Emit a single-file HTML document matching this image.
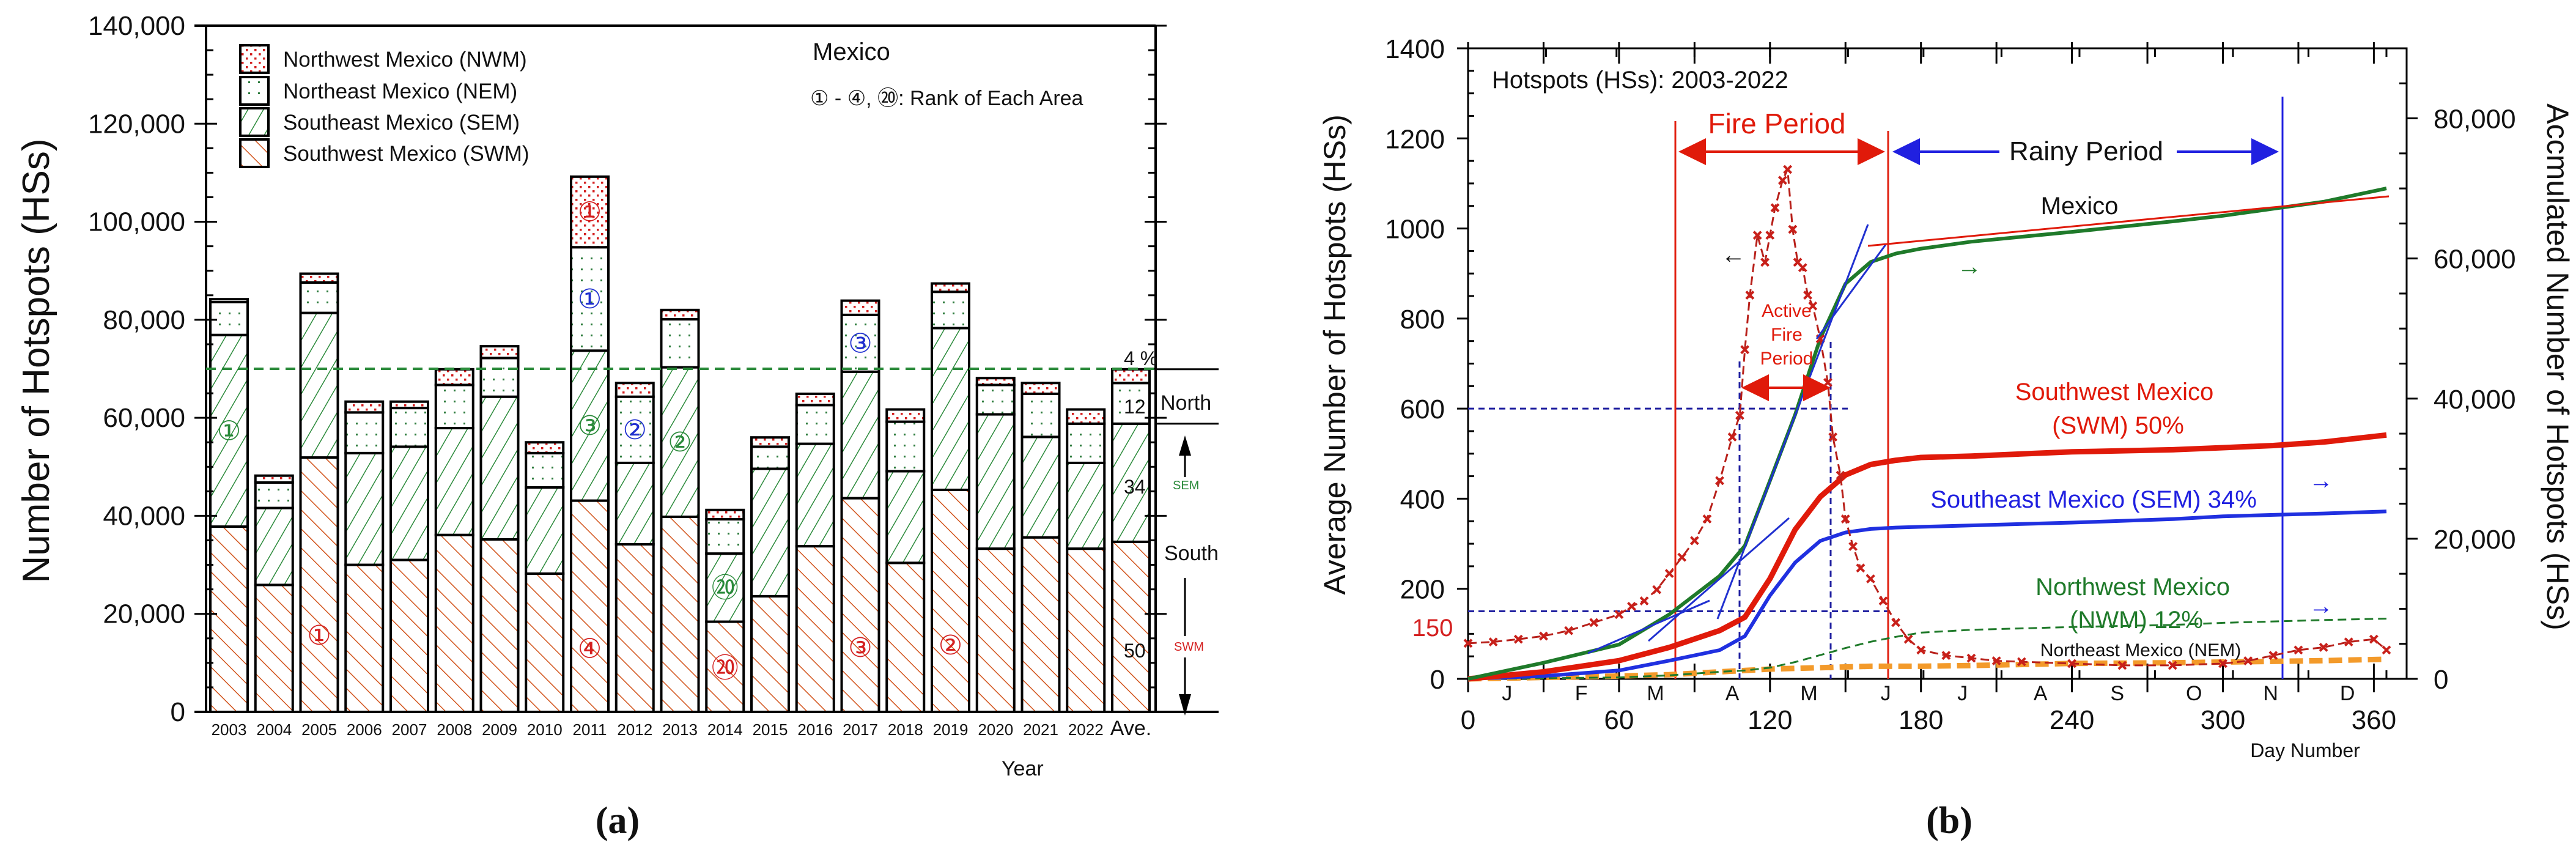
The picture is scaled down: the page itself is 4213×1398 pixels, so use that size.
<!DOCTYPE html>
<html><head><meta charset="utf-8"><style>
html,body{margin:0;padding:0;background:#fff;}
svg{display:block;font-family:"Liberation Sans","DejaVu Sans",sans-serif;}
</style></head><body>
<svg id="fig" width="4213" height="1398" viewBox="0 0 4213 1398" xmlns="http://www.w3.org/2000/svg">
<defs>
<pattern id="pSWM" patternUnits="userSpaceOnUse" width="22" height="22" patternTransform="rotate(-45)"><rect width="22" height="22" fill="#fff"/><line x1="0" y1="0" x2="0" y2="22" stroke="#d2541c" stroke-width="3"/></pattern>
<pattern id="pSEM" patternUnits="userSpaceOnUse" width="22" height="22" patternTransform="rotate(30)"><rect width="22" height="22" fill="#fff"/><line x1="0" y1="0" x2="0" y2="22" stroke="#2a8a3a" stroke-width="3"/></pattern>
<pattern id="pNEM" patternUnits="userSpaceOnUse" width="16" height="18"><rect width="16" height="18" fill="#fff"/><rect x="6" y="7" width="3" height="3" fill="#2a7a3a"/></pattern>
<pattern id="pNWM" patternUnits="userSpaceOnUse" width="14" height="14"><rect width="14" height="14" fill="#fff"/><rect x="3" y="3" width="3.5" height="3.5" fill="#d42020"/><rect x="10" y="10" width="3.5" height="3.5" fill="#d42020"/></pattern>
</defs>
<g id="chartA"></g>
<g id="chartB"></g>
</svg>
<script>
// ---------- Chart (a) data ----------
const years = ["2003","2004","2005","2006","2007","2008","2009","2010","2011","2012","2013","2014","2015","2016","2017","2018","2019","2020","2021","2022","Ave."];
const swm = [37.8,25.9,51.9,30.0,31.0,36.1,35.2,28.2,43.1,34.2,39.8,18.4,23.6,33.8,43.6,30.4,45.3,33.3,35.6,33.3,34.7];
const sem = [39.1,15.7,29.5,22.8,23.1,21.8,29.1,17.6,30.6,16.6,30.5,13.9,26.0,20.9,25.8,18.7,33.0,27.4,20.5,17.5,24.1];
const nem = [6.7,5.2,6.2,8.3,7.9,8.8,7.9,7.0,21.1,13.5,9.8,7.0,4.5,7.9,11.6,10.1,7.4,6.0,8.8,8.0,8.3];
const nwm = [0.6,1.4,1.8,2.2,1.3,3.2,2.4,2.2,14.4,2.8,1.9,1.9,1.9,2.3,2.9,2.5,1.7,1.4,2.2,2.9,2.8];
const yTicksA = [0,20000,40000,60000,80000,100000,120000,140000];
const rankIdx = [0,2,8,8,8,8,9,10,11,11,14,14,16];
const rankSeries = ["sem","swm","nwm","nem","sem","swm","nem","sem","sem","swm","nem","swm","swm"];
const rankText = ["①","①","①","①","③","④","②","②","⑳","⑳","③","③","②"];

// ---------- Chart (b) data ----------
const dailyDays = [0,10,20,30,40,50,60,65,70,75,80,85,90,95,100,105,108,110,112,115,118,120,122,125,127,129,131,133,135,137,140,143,145,148,150,153,156,160,165,170,175,180,190,200,210,220,240,260,280,300,310,320,330,340,350,360,365];
const dailyAvg = [79,82,88,95,107,125,143,161,173,198,234,270,307,355,440,537,585,731,852,985,925,985,1046,1107,1131,998,925,913,852,828,755,658,537,452,355,294,246,222,173,125,88,64,52,46,40,38,34,30,30,34,40,52,64,70,82,88,64];
const cumDays = [0,30,60,80,100,110,120,130,140,150,160,170,180,200,240,280,300,320,340,365];
const cumMexico = [0,2.3,4.9,9.2,14.7,19.0,28.3,37.7,48.6,56.4,59.5,60.7,61.4,62.4,63.8,65.3,66.1,67.1,68.1,70.0];
const cumSWM = [0,1.0,2.6,4.5,6.9,8.8,14.3,21.3,26.0,29.1,30.6,31.2,31.6,31.8,32.4,32.7,33.0,33.3,33.8,34.8];
const cumSEM = [0,0.4,1.2,2.6,4.1,6.1,11.9,16.6,19.7,20.9,21.4,21.6,21.7,21.9,22.3,22.8,23.2,23.4,23.6,23.9];
const cumNWM = [0,0.1,0.2,0.5,1.0,1.2,1.6,2.4,3.4,4.4,5.3,6.0,6.6,7.0,7.4,7.7,8.0,8.2,8.4,8.6];
const cumNEM = [0,0.2,0.4,0.6,1.0,1.2,1.4,1.5,1.6,1.7,1.8,1.8,1.8,1.9,2.2,2.3,2.4,2.5,2.6,2.8];
const leftTicksB = [0,200,400,600,800,1000,1200,1400];
const rightTicksB = [0,20000,40000,60000,80000];
const dayTicks = [0,60,120,180,240,300,360];
const monthLetters = ["J","F","M","A","M","J","J","A","S","O","N","D"];
const monthStarts = [0,31,59,90,120,151,181,212,243,273,304,334,365];

const NS="http://www.w3.org/2000/svg";
function el(tag,attrs,parent,text){const e=document.createElementNS(NS,tag);for(const k in attrs)e.setAttribute(k,attrs[k]);if(text!==undefined)e.textContent=text;parent.appendChild(e);return e;}

// ===== Chart A =====
const A=document.getElementById('chartA');
const aL=337,aR=1890,aT=42,aB=1164;
const yA=v=>aB-v/140000*(aB-aT);
const bx=i=>344+i*73.75, bw=61;
for(let i=0;i<years.length;i++){
  const s1=swm[i]*1000,s2=s1+sem[i]*1000,s3=s2+nem[i]*1000,s4=s3+nwm[i]*1000;
  const segs=[[0,s1,'pSWM','swm'],[s1,s2,'pSEM','sem'],[s2,s3,'pNEM','nem'],[s3,s4,'pNWM','nwm']];
  for(const sg of segs){
    const r=el('rect',{x:bx(i),y:yA(sg[1]),width:bw,height:yA(sg[0])-yA(sg[1]),fill:'url(#'+sg[2]+')',stroke:'#000','stroke-width':4},A);
    
    
  }
  const t=el('text',{x:bx(i)+bw/2,y:1202,'font-size':i===20?34:26,'text-anchor':'middle',fill:'#111'},A,years[i]);
  
  
}
const rankColor={swm:'#d42020',sem:'#2a8a3a',nem:'#2030d0',nwm:'#d42020'};
for(let k=0;k<rankIdx.length;k++){
  const i=rankIdx[k],s=rankSeries[k];
  const base={swm:0,sem:swm[i],nem:swm[i]+sem[i],nwm:swm[i]+sem[i]+nem[i]}[s];
  const h={swm:swm[i],sem:sem[i],nem:nem[i],nwm:nwm[i]}[s];
  let v=(base+h/2)*1000;
  if(s==='swm') v=(base+h*0.3)*1000;
  if(i===11&&s==='swm') v=9000;
  const t=el('text',{x:bx(i)+bw/2,y:yA(v)+15,'font-size':44,'text-anchor':'middle',fill:rankColor[s]},A,rankText[k]);
  
  
}
el('line',{x1:aL,y1:aT,x2:aL,y2:aB,stroke:'#000','stroke-width':4},A);
el('line',{x1:aR,y1:aT,x2:aR,y2:aB,stroke:'#000','stroke-width':4},A);
el('line',{x1:318,y1:aT,x2:aR,y2:aT,stroke:'#000','stroke-width':4},A);
el('line',{x1:318,y1:aB,x2:1993,y2:aB,stroke:'#000','stroke-width':4},A);
for(let v=0;v<=140000;v+=5000){
  const y=yA(v),maj=v%20000===0;
  el('line',{x1:maj?318:aL,y1:y,x2:aL+(maj?18:12),y2:y,stroke:'#000','stroke-width':3},A);
  el('line',{x1:aR-(maj?18:12),y1:y,x2:aR+(maj?18:0),y2:y,stroke:'#000','stroke-width':3},A);
}
for(const v of yTicksA){
  const t=el('text',{x:303,y:yA(v)+15,'font-size':44,'text-anchor':'end',fill:'#111'},A,v.toLocaleString('en-US'));
  
  
}
const ytA=el('text',{x:0,y:0,'font-size':62,'text-anchor':'middle',transform:'translate(80,590) rotate(-90)',fill:'#111'},A,'Number of Hotspots (HSs)');


el('line',{x1:aL,y1:yA(70000),x2:aR,y2:yA(70000),stroke:'#2a8a3a','stroke-width':4,'stroke-dasharray':'16,10'},A);
el('line',{x1:aR,y1:yA(69900),x2:1993,y2:yA(69900),stroke:'#000','stroke-width':3},A);
el('line',{x1:aR,y1:yA(58800),x2:1993,y2:yA(58800),stroke:'#000','stroke-width':3},A);
const legA=[['pNWM','Northwest Mexico (NWM)',74],['pNEM','Northeast Mexico (NEM)',126],['pSEM','Southeast Mexico (SEM)',177],['pSWM','Southwest Mexico (SWM)',228]];
for(const l of legA){
  const g=el('g',{},A);
  
  
  el('rect',{x:393,y:l[2],width:46,height:45,fill:'url(#'+l[0]+')',stroke:'#000','stroke-width':4},g);
  el('text',{x:463,y:l[2]+35,'font-size':35,fill:'#111'},g,l[1]);
}
function txt(p,x,y,s,str,name,opt){const t=el('text',Object.assign({x:x,y:y,'font-size':s,fill:'#111'},opt||{}),p,str);return t;}
txt(A,1329,98,40,'Mexico','region-title');
txt(A,1325,172,34,'① - ④, ⑳: Rank of Each Area','rank-note');
txt(A,1838,597,32,'4 %','pct-nwm');
txt(A,1838,676,32,'12','pct-nem');
txt(A,1898,670,34,'North','north-label');
txt(A,1838,807,32,'34','pct-sem');
txt(A,1918,800,20,'SEM','sem-small',{fill:'#2a8a3a'});
txt(A,1904,916,34,'South','south-label');
txt(A,1838,1075,32,'50','pct-swm');
txt(A,1920,1064,20,'SWM','swm-small',{fill:'#d42020'});
el('line',{x1:1938,y1:735,x2:1938,y2:780,stroke:'#000','stroke-width':3},A);
el('path',{d:'M1928,745 L1938,712 L1948,745z',fill:'#000'},A);
el('line',{x1:1938,y1:945,x2:1938,y2:1040,stroke:'#000','stroke-width':3},A);
el('line',{x1:1938,y1:1075,x2:1938,y2:1150,stroke:'#000','stroke-width':3},A);
el('path',{d:'M1928,1135 L1938,1170 L1948,1135z',fill:'#000'},A);
txt(A,1638,1268,34,'Year','x-axis-title');
txt(A,1010,1362,62,'(a)','panel-label-a',{'font-family':'Liberation Serif, serif','text-anchor':'middle','font-weight':'bold'});

// ===== Chart B =====
const B=document.getElementById('chartB');
const bL=2401,bR=3936,bT=79,bB=1110;
const xD=d=>bL+d*4.115;
const yL=v=>bB-v/1400*(bB-bT);
const yR=v=>bB-v/90000*(bB-bT);
el('rect',{x:bL,y:bT,width:bR-bL,height:bB-bT,fill:'none',stroke:'#000','stroke-width':3},B);
for(let d=0;d<=360;d+=30){
  el('line',{x1:xD(d),y1:bB-25,x2:xD(d),y2:bB+22,stroke:'#000','stroke-width':3},B);
  el('line',{x1:xD(d),y1:bT-10,x2:xD(d),y2:bT+25,stroke:'#000','stroke-width':3},B);
}
for(const m of monthStarts){
  el('line',{x1:xD(m),y1:bB-14,x2:xD(m),y2:bB,stroke:'#000','stroke-width':3},B);
  el('line',{x1:xD(m),y1:bT,x2:xD(m),y2:bT+14,stroke:'#000','stroke-width':3},B);
}
for(let v=0;v<=1400;v+=50){
  const maj=v%200===0;
  el('line',{x1:maj?bL-18:bL,y1:yL(v),x2:bL+(maj?0:10),y2:yL(v),stroke:'#000','stroke-width':3},B);
}
for(let v=0;v<=90000;v+=5000){
  const maj=v%20000===0;
  el('line',{x1:bR-(maj?0:12),y1:yR(v),x2:bR+(maj?18:0),y2:yR(v),stroke:'#000','stroke-width':3},B);
}
for(const v of leftTicksB) txt(B,2363,yL(v)+16,44,String(v),'left-tick-label',{'text-anchor':'end'});
for(const v of rightTicksB) txt(B,3980,yR(v)+16,44,v.toLocaleString('en-US'),'right-tick-label');
for(const d of dayTicks) txt(B,xD(d),1192,44,String(d),'day-tick-label',{'text-anchor':'middle'});
for(let m=0;m<12;m++) txt(B,xD((monthStarts[m]+monthStarts[m+1])/2),1145,34,monthLetters[m],'month-label',{'text-anchor':'middle'});
txt(B,3770,1238,32,'Day Number','x-axis-title-b',{'text-anchor':'middle'});
txt(B,0,0,50,'Average Number of Hotspots (HSs)','left-axis-title',{'text-anchor':'middle',transform:'translate(2200,580) rotate(-90)'});
txt(B,0,0,50,'Accmulated Number of Hotspots (HSs)','right-axis-title',{'text-anchor':'middle',transform:'translate(4166,600) rotate(90)'});
txt(B,2343,1040,40,'150','label-150',{fill:'#d42020','text-anchor':'middle'});
txt(B,2440,144,40,'Hotspots (HSs): 2003-2022','title-b');
txt(B,3188,1362,62,'(b)','panel-label-b',{'font-family':'Liberation Serif, serif','text-anchor':'middle','font-weight':'bold'});
el('line',{x1:bL,y1:yL(600),x2:3022,y2:yL(600),stroke:'#2020a0','stroke-width':3,'stroke-dasharray':'10,7'},B);
el('line',{x1:bL,y1:yL(150),x2:3088,y2:yL(150),stroke:'#2020a0','stroke-width':3,'stroke-dasharray':'10,7'},B);
el('line',{x1:2845,y1:591,x2:2845,y2:bB,stroke:'#2020a0','stroke-width':3,'stroke-dasharray':'10,7'},B);
el('line',{x1:2994,y1:559,x2:2994,y2:bB,stroke:'#2020a0','stroke-width':3,'stroke-dasharray':'10,7'},B);
el('line',{x1:2740,y1:198,x2:2740,y2:bB,stroke:'#e02010','stroke-width':3},B);
el('line',{x1:3088,y1:214,x2:3088,y2:bB,stroke:'#e02010','stroke-width':3},B);
el('line',{x1:3733,y1:158,x2:3733,y2:bB,stroke:'#2020e0','stroke-width':3},B);
function lineSeries(xs,ys,fy,stroke,w,dash,name){
  let d='';for(let i=0;i<xs.length;i++)d+=(i?'L':'M')+xD(xs[i]).toFixed(1)+','+fy(ys[i]).toFixed(1);
  const p=el('path',{d:d,fill:'none',stroke:stroke,'stroke-width':w,'stroke-dasharray':dash||'none','stroke-linejoin':'round'},B);
  
  
  return p;
}
lineSeries(cumDays,cumNEM.map(v=>v*1000),yR,'#f39a2a',9,'22,10','series-nem');
lineSeries(cumDays,cumNWM.map(v=>v*1000),yR,'#1f7a2a',3,'14,8','series-nwm');
lineSeries(cumDays,cumSEM.map(v=>v*1000),yR,'#2030e0',6,'','series-sem');
lineSeries(cumDays,cumSWM.map(v=>v*1000),yR,'#e01a0a',9,'','series-swm');
lineSeries(cumDays,cumMexico.map(v=>v*1000),yR,'#1f7a2a',6,'','series-mexico');
lineSeries(dailyDays,dailyAvg,yL,'#b8201a',3,'14,7','series-daily-average');
for(let i=0;i<dailyDays.length;i++){
  const x=xD(dailyDays[i]),y=yL(dailyAvg[i]);
  const m=el('path',{d:`M${x-6},${y-6}L${x+6},${y+6}M${x-6},${y+6}L${x+6},${y-6}`,stroke:'#c8201a','stroke-width':4},B);
  
  
}
el('line',{x1:2597,y1:1068,x2:2796,y2:982,stroke:'#2030d0','stroke-width':3},B);
el('line',{x1:2696,y1:1048,x2:2926,y2:847,stroke:'#2030d0','stroke-width':3},B);
el('line',{x1:2809,y1:1012,x2:3055,y2:367,stroke:'#2030d0','stroke-width':3},B);
el('line',{x1:2971,y1:554,x2:3084,y2:400,stroke:'#2030d0','stroke-width':3},B);
el('line',{x1:3055,y1:402,x2:3907,y2:321,stroke:'#e01a0a','stroke-width':3},B);
function dblArrow(x1,x2,y,c,hw,hl,name){
  const g=el('g',{},B);
  el('line',{x1:x1+hl,y1:y,x2:x2-hl,y2:y,stroke:c,'stroke-width':4},g);
  el('path',{d:`M${x1},${y}L${x1+hl},${y-hw}L${x1+hl},${y+hw}z`,fill:c},g);
  el('path',{d:`M${x2},${y}L${x2-hl},${y-hw}L${x2-hl},${y+hw}z`,fill:c},g);
}
dblArrow(2745,3083,248,'#e01a0a',22,45,'fire-period-arrow');
dblArrow(3095,3727,248,'#2020e0',22,45,'rainy-period-arrow');
dblArrow(2848,2994,634,'#e01a0a',22,45,'active-fire-arrow');
el('rect',{x:3270,y:220,width:290,height:55,fill:'#fff'},B);
txt(B,2906,218,46,'Fire Period','fire-period-label',{fill:'#e01a0a','text-anchor':'middle'});
txt(B,3412,262,44,'Rainy Period','rainy-period-label',{'text-anchor':'middle'});
txt(B,3401,350,40,'Mexico','mexico-label',{'text-anchor':'middle'});
txt(B,2922,518,30,'Active','active-label-1',{fill:'#e01a0a','text-anchor':'middle'});
txt(B,2922,557,30,'Fire','active-label-2',{fill:'#e01a0a','text-anchor':'middle'});
txt(B,2922,596,30,'Period','active-label-3',{fill:'#e01a0a','text-anchor':'middle'});
txt(B,3458,654,40,'Southwest Mexico','swm-label',{fill:'#e01a0a','text-anchor':'middle'});
txt(B,3464,709,40,'(SWM) 50%','swm-pct-label',{fill:'#e01a0a','text-anchor':'middle'});
txt(B,3424,830,40,'Southeast Mexico (SEM) 34%','sem-label',{fill:'#2020e0','text-anchor':'middle'});
txt(B,3488,973,40,'Northwest Mexico','nwm-label',{fill:'#1f7a2a','text-anchor':'middle'});
txt(B,3494,1027,40,'(NWM) 12%','nwm-pct-label',{fill:'#1f7a2a','text-anchor':'middle'});
txt(B,3501,1073,30,'Northeast Mexico (NEM)','nem-label',{'text-anchor':'middle'});
txt(B,2835,430,40,'←','left-axis-arrow',{'text-anchor':'middle'});
txt(B,3221,449,40,'→','mexico-arrow',{fill:'#1f7a2a','text-anchor':'middle'});
txt(B,3796,799,40,'→','sem-arrow',{fill:'#2020e0','text-anchor':'middle'});
txt(B,3796,1004,40,'→','nwm-arrow',{fill:'#2020e0','text-anchor':'middle'});
</script>
</body></html>
